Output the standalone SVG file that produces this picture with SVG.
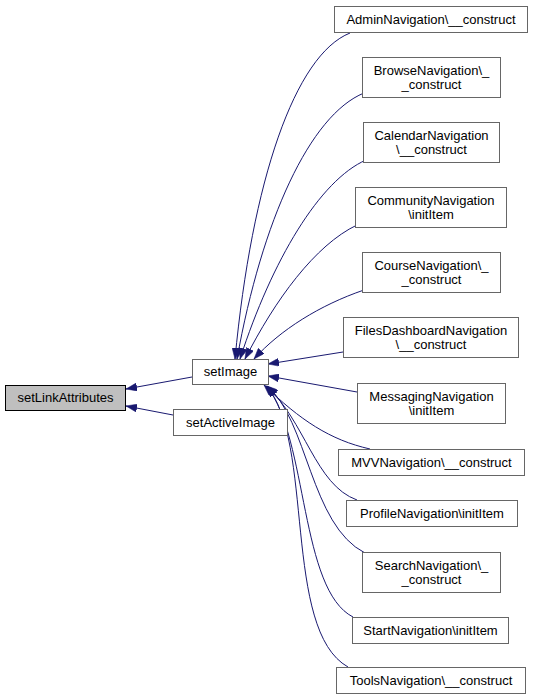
<svg xmlns="http://www.w3.org/2000/svg" width="533" height="700" viewBox="0 0 533 700">
<style>
.n rect{fill:#ffffff;stroke:#666666;stroke-width:1}
.n.root rect{fill:#bfbfbf;stroke:#000000}
.n text{font-family:"Liberation Sans",Arial,sans-serif;font-size:13px;fill:#000000;text-anchor:middle}
.e path{fill:none;stroke:#191970;stroke-width:1;marker-end:url(#ah)}
</style>
<defs>
<marker id="ah" markerUnits="userSpaceOnUse" markerWidth="11" markerHeight="8" refX="11" refY="4" orient="auto">
<path d="M0,0 L11,4 L0,8 z" fill="#191970" stroke="#191970" stroke-width="0.5"/>
</marker>
</defs>
<rect width="533" height="700" fill="#ffffff"/>
<g id="edges" class="e">
<path d="M192,377 L126,389"/>
<path d="M173,415 L126,406"/>
<path d="M350,33 C295,55 252,180 235,359"/>
<path d="M364,93 C310,115 262,220 237,359"/>
<path d="M366,160 C320,180 272,260 240,359"/>
<path d="M357,225 C315,245 275,300 245,359"/>
<path d="M364,290 C320,305 280,330 254,359"/>
<path d="M343,352 L268,364"/>
<path d="M357,392 L268,376"/>
<path d="M370,449 C330,440 300,420 264,385"/>
<path d="M357,500 C315,485 305,420 266,386"/>
<path d="M365,553 C310,525 308,420 267,386"/>
<path d="M353,617 C300,590 308,440 267,386"/>
<path d="M348,667 C282,630 315,440 266,386"/>
</g>
<g id="setLinkAttributes" class="n root"><rect x="5.5" y="385.5" width="120" height="25"/><text x="65.5" y="402">setLinkAttributes</text></g>
<g id="setImage" class="n"><rect x="192.5" y="359.5" width="76" height="25"/><text x="230.5" y="376">setImage</text></g>
<g id="setActiveImage" class="n"><rect x="173.5" y="409.5" width="114" height="26"/><text x="230.5" y="427">setActiveImage</text></g>
<g id="AdminNavigation" class="n"><rect x="334.5" y="6.5" width="193" height="26"/><text x="431" y="24">AdminNavigation\__construct</text></g>
<g id="BrowseNavigation" class="n"><rect x="362.5" y="57.5" width="138" height="40"/><text x="431.5" y="74.5">BrowseNavigation\_</text><text x="431.5" y="89">_construct</text></g>
<g id="CalendarNavigation" class="n"><rect x="363.5" y="122.5" width="136" height="40"/><text x="431.5" y="139.5">CalendarNavigation</text><text x="431.5" y="154">\__construct</text></g>
<g id="CommunityNavigation" class="n"><rect x="355.5" y="187.5" width="151" height="40"/><text x="431" y="204.5">CommunityNavigation</text><text x="431" y="219">\initItem</text></g>
<g id="CourseNavigation" class="n"><rect x="362.5" y="252.5" width="138" height="40"/><text x="431.5" y="269.5">CourseNavigation\_</text><text x="431.5" y="284">_construct</text></g>
<g id="FilesDashboardNavigation" class="n"><rect x="343.5" y="317.5" width="175" height="40"/><text x="431" y="334.5">FilesDashboardNavigation</text><text x="431" y="349">\__construct</text></g>
<g id="MessagingNavigation" class="n"><rect x="357.5" y="383.5" width="148" height="40"/><text x="431.5" y="400.5">MessagingNavigation</text><text x="431.5" y="415">\initItem</text></g>
<g id="MVVNavigation" class="n"><rect x="338.5" y="449.5" width="186" height="26"/><text x="431.5" y="467">MVVNavigation\__construct</text></g>
<g id="ProfileNavigation" class="n"><rect x="346.5" y="500.5" width="171" height="26"/><text x="432" y="518">ProfileNavigation\initItem</text></g>
<g id="SearchNavigation" class="n"><rect x="362.5" y="552.5" width="138" height="40"/><text x="431.5" y="569.5">SearchNavigation\_</text><text x="431.5" y="584">_construct</text></g>
<g id="StartNavigation" class="n"><rect x="352.5" y="617.5" width="156" height="26"/><text x="430.5" y="635">StartNavigation\initItem</text></g>
<g id="ToolsNavigation" class="n"><rect x="336.5" y="667.5" width="189" height="26"/><text x="431" y="685">ToolsNavigation\__construct</text></g>
</svg>
